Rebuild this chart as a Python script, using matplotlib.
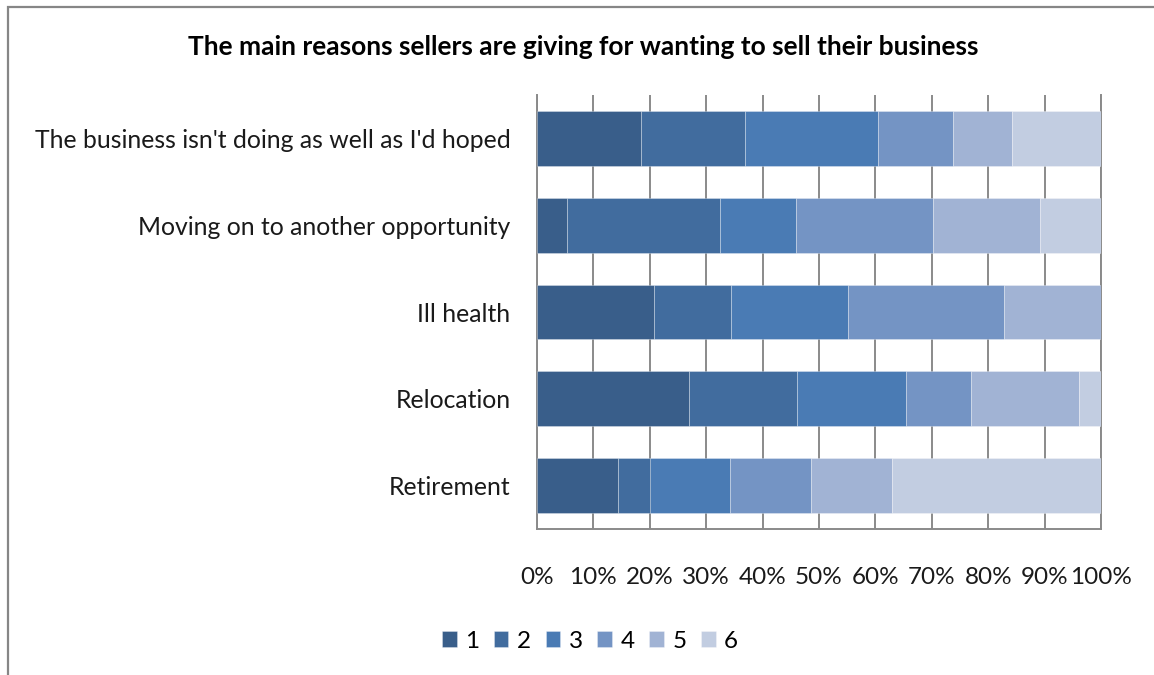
import matplotlib
matplotlib.use("Agg")
import matplotlib.pyplot as plt
import numpy as np
from matplotlib.patches import Rectangle

plt.rcParams['font.family'] = ['Lato', 'DejaVu Sans']

categories = [
    "The business isn't doing as well as I'd hoped",
    "Moving on to another opportunity",
    "Ill health",
    "Relocation",
    "Retirement",
]
series_names = ["1", "2", "3", "4", "5", "6"]
# responses per rating, one list per reason (same order as categories)
counts = [
    [7, 7, 9, 5, 4, 6],
    [2, 10, 5, 9, 7, 4],
    [6, 4, 6, 8, 5, 0],
    [7, 5, 5, 3, 5, 1],
    [5, 2, 5, 5, 5, 13],
]
tick_labels = ["0%", "10%", "20%", "30%", "40%", "50%", "60%", "70%", "80%", "90%", "100%"]
colors = ["#395E8A", "#416C9E", "#4A7BB4", "#7494C4", "#A1B3D4", "#C2CDE1"]

W, H = 1154, 675
fig = plt.figure(figsize=(W / 100, H / 100), dpi=100)

# outer chart frame (left and top edges visible)
fig.patches.append(Rectangle((7.5 / W, -0.1), 1.2, (H - 7.5) / H + 0.1,
                             transform=fig.transFigure, fill=False,
                             edgecolor="#868686", linewidth=1.6))

ax = fig.add_axes([537 / W, (H - 529) / H, (1101 - 537) / W, (529 - 95) / H])

data = np.array(counts, dtype=float)
pct = data / data.sum(axis=1, keepdims=True) * 100
y = np.arange(len(categories))
left = np.zeros(len(categories))
for j, name in enumerate(series_names):
    ax.barh(y, pct[:, j], left=left, height=0.63, color=colors[j],
            edgecolor=(1, 1, 1, 0.35), linewidth=0.6, label=name, zorder=3)
    left += pct[:, j]

fs = 17.8
ax.set_xlim(0, 100)
ax.set_ylim(len(categories) - 0.5, -0.5)
ax.set_xticks(np.arange(0, 101, 10))
ax.set_xticklabels(tick_labels, fontsize=17.5, color="#1a1a1a")
ax.set_yticks(y)
ax.set_yticklabels(categories, fontsize=fs, color="#1a1a1a")
ax.tick_params(axis='both', length=0)
ax.tick_params(axis='x', pad=27)
ax.tick_params(axis='y', pad=19)

ax.grid(axis='x', color="#8a8a8a", linewidth=1.4, zorder=0)
ax.set_axisbelow(True)
ax.spines["top"].set_visible(False)
for side in ["left", "bottom", "right"]:
    ax.spines[side].set_color("#8a8a8a")
    ax.spines[side].set_linewidth(1.4)

fig.text(583 / W, 1 - 47 / H, "The main reasons sellers are giving for wanting to sell their business",
         ha="center", va="center", fontsize=19, fontweight="bold", color="#000000")

handles, labels = ax.get_legend_handles_labels()
fig.legend(handles, labels, loc="center", bbox_to_anchor=(590 / W, 1 - 641 / H),
           ncol=6, frameon=False, fontsize=17.5, handlelength=0.6, handleheight=0.6,
           handletextpad=0.35, columnspacing=0.6)

fig.savefig("out.png", dpi=100)
